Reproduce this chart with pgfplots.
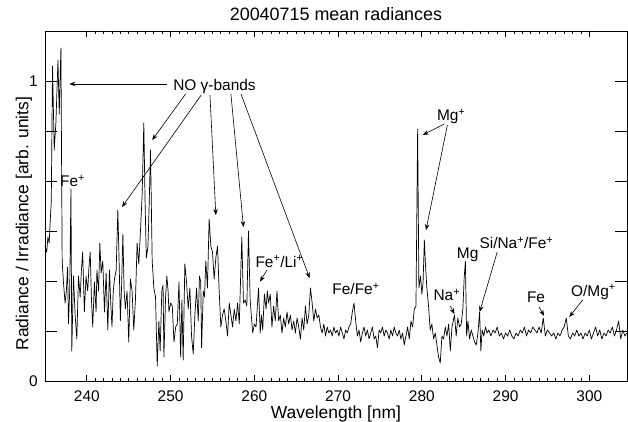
\documentclass[border=0pt]{standalone}
\usepackage{fontspec}
\setmainfont{Liberation Sans}
\usepackage{pgfplots}
\pgfplotsset{compat=1.18}
\usetikzlibrary{arrows.meta}

% mean radiance spectrum, wavelength [nm] vs radiance/irradiance
\pgfplotstableread{
x y
235.0 0.45
235.2 0.43
235.35 0.48
235.5 0.46
235.6 0.52
235.75 0.60
235.9 1.05
236.1 0.77
236.3 0.86
236.55 1.07
236.7 0.89
236.9 1.11
237.05 0.40
237.2 0.33
237.4 0.26
237.55 0.30
237.7 0.38
237.8 0.19
237.95 0.30
238.1 0.64
238.2 0.10
238.4 0.35
238.6 0.22
238.8 0.14
239.0 0.35
239.2 0.28
239.35 0.37
239.5 0.43
239.7 0.23
239.9 0.35
240.1 0.30
240.25 0.38
240.4 0.43
240.55 0.27
240.7 0.18
240.9 0.33
241.1 0.23
241.2 0.37
241.4 0.30
241.55 0.46
241.7 0.36
241.9 0.40
242.1 0.23
242.3 0.36
242.5 0.17
242.7 0.37
242.85 0.26
243.0 0.18
243.15 0.30
243.3 0.34
243.5 0.37
243.7 0.57
243.85 0.40
244.0 0.20
244.15 0.32
244.3 0.49
244.45 0.30
244.6 0.24
244.8 0.30
245.0 0.13
245.2 0.34
245.4 0.30
245.6 0.17
245.8 0.27
246.0 0.46
246.2 0.39
246.4 0.50
246.6 0.62
246.8 0.86
246.95 0.60
247.1 0.41
247.3 0.45
247.45 0.60
247.6 0.77
247.8 0.40
248.0 0.31
248.2 0.28
248.4 0.05
248.6 0.20
248.75 0.10
248.95 0.30
249.1 0.32
249.2 0.08
249.4 0.28
249.55 0.35
249.7 0.30
249.8 0.23
250.0 0.26
250.2 0.25
250.4 0.13
250.6 0.18
250.8 0.19
251.0 0.33
251.2 0.08
251.35 0.27
251.5 0.07
251.7 0.39
251.9 0.33
252.1 0.24
252.3 0.31
252.5 0.15
252.7 0.09
252.9 0.22
253.1 0.31
253.3 0.20
253.45 0.35
253.6 0.33
253.7 0.11
253.9 0.30
254.05 0.28
254.2 0.40
254.4 0.31
254.6 0.54
254.8 0.45
255.0 0.43
255.2 0.34
255.4 0.41
255.6 0.45
255.8 0.30
256.0 0.18
256.2 0.22
256.4 0.24
256.6 0.20
256.8 0.15
257.0 0.26
257.2 0.22
257.4 0.18
257.6 0.24
257.8 0.20
258.0 0.26
258.2 0.19
258.5 0.48
258.7 0.26
258.9 0.27
259.1 0.25
259.3 0.50
259.5 0.27
259.8 0.16
260.0 0.19
260.2 0.18
260.5 0.31
260.7 0.16
260.85 0.22
261.0 0.17
261.2 0.29
261.4 0.24
261.55 0.30
261.7 0.26
261.9 0.29
262.1 0.18
262.3 0.25
262.5 0.20
262.7 0.30
262.9 0.20
263.1 0.22
263.3 0.16
263.5 0.21
263.7 0.18
263.9 0.23
264.1 0.19
264.3 0.22
264.5 0.17
264.7 0.20
264.9 0.16
265.1 0.21
265.3 0.18
265.5 0.14
265.7 0.21
265.9 0.17
266.1 0.25
266.3 0.19
266.5 0.22
266.7 0.31
266.9 0.26
267.1 0.20
267.3 0.24
267.5 0.21
267.7 0.22
267.9 0.18
268.1 0.16
268.3 0.19
268.5 0.15
268.7 0.18
268.9 0.16
269.1 0.17
269.3 0.15
269.5 0.18
269.7 0.16
269.9 0.17
270.1 0.15
270.3 0.18
270.5 0.16
270.7 0.14
270.9 0.17
271.1 0.16
271.3 0.18
271.5 0.19
271.7 0.23
271.9 0.26
272.1 0.20
272.3 0.15
272.5 0.17
272.7 0.13
272.9 0.16
273.1 0.18
273.3 0.15
273.5 0.17
273.7 0.14
273.9 0.16
274.1 0.18
274.3 0.14
274.5 0.15
274.7 0.11
274.9 0.17
275.1 0.16
275.3 0.18
275.5 0.15
275.7 0.17
275.9 0.16
276.1 0.14
276.3 0.17
276.5 0.15
276.7 0.18
276.9 0.16
277.1 0.15
277.3 0.17
277.5 0.14
277.7 0.16
277.9 0.12
278.1 0.15
278.3 0.18
278.5 0.14
278.7 0.20
278.9 0.18
279.1 0.24
279.3 0.25
279.5 0.84
279.65 0.31
279.85 0.35
280.0 0.29
280.15 0.33
280.3 0.47
280.45 0.38
280.6 0.31
280.8 0.25
281.0 0.17
281.2 0.19
281.4 0.14
281.6 0.16
281.8 0.12
282.0 0.08
282.2 0.06
282.4 0.15
282.6 0.14
282.8 0.18
283.0 0.15
283.2 0.19
283.4 0.10
283.6 0.18
283.75 0.20
283.9 0.22
284.1 0.15
284.3 0.21
284.5 0.18
284.7 0.19
284.9 0.24
285.05 0.34
285.2 0.40
285.35 0.15
285.5 0.20
285.7 0.14
285.9 0.17
286.1 0.15
286.3 0.13
286.5 0.12
286.7 0.16
286.9 0.23
287.05 0.10
287.2 0.17
287.4 0.15
287.6 0.18
287.8 0.16
288.0 0.17
288.25 0.15
288.5 0.17
288.75 0.16
289.0 0.18
289.25 0.15
289.5 0.16
289.75 0.14
290.0 0.16
290.25 0.15
290.5 0.17
290.75 0.15
291.0 0.14
291.25 0.16
291.5 0.15
291.75 0.17
292.0 0.16
292.25 0.18
292.5 0.15
292.75 0.17
293.0 0.16
293.25 0.18
293.5 0.17
293.75 0.16
294.0 0.18
294.25 0.16
294.5 0.21
294.75 0.15
295.0 0.17
295.25 0.16
295.5 0.15
295.75 0.16
296.0 0.14
296.25 0.16
296.5 0.15
296.75 0.17
297.0 0.18
297.25 0.21
297.5 0.15
297.75 0.14
298.0 0.16
298.25 0.15
298.5 0.17
298.75 0.15
299.0 0.16
299.25 0.14
299.5 0.16
299.75 0.15
300.0 0.17
300.25 0.14
300.5 0.16
300.75 0.18
301.0 0.15
301.25 0.17
301.5 0.14
301.75 0.16
302.0 0.15
302.25 0.17
302.5 0.16
302.75 0.18
303.0 0.15
303.25 0.17
303.5 0.20
303.75 0.14
304.0 0.17
304.25 0.15
304.5 0.16
}\spectrum

\tikzset{
  lbl/.style={font=\fontsize{15.5}{16}\selectfont, inner sep=0pt, anchor=base},
  arr/.style={line width=0.6bp, -{Stealth[length=6bp,width=4.5bp]}},
}

\begin{document}
\begin{tikzpicture}
\useasboundingbox (-45bp,-41bp) rectangle (583bp,381bp);
\begin{axis}[
  at={(0,0)}, anchor=south west,
  scale only axis, width=582bp, height=350bp,
  xmin=235, xmax=304.5, ymin=0, ymax=1.166667,
  xtick={240,250,...,300}, minor x tick num=9,
  ytick={0,0.166667,0.333333,0.5,0.666667,0.833333,1,1.166667},
  yticklabels={0,,,,,,1,},
  minor y tick num=4,
  /pgf/number format/assume math mode=true,
  tick pos=both, tick align=inside,
  axis line style={line width=0.8bp},
  every tick/.style={black, line width=0.8bp},
  xtick style={/pgfplots/major tick length=6bp, /pgfplots/minor tick length=3.5bp},
  ytick style={/pgfplots/major tick length=12bp, /pgfplots/minor tick length=6bp},
  tick label style={font=\fontsize{15.5}{16}\selectfont, inner sep=0pt},
  xticklabel style={anchor=base, yshift=-20bp},
  yticklabel style={anchor=east, xshift=-7bp},
  title={20040715 mean radiances},
  title style={font=\fontsize{18}{20}\selectfont, inner sep=0pt,
    at={(axis description cs:0.5,1)}, anchor=base, yshift=5bp},
  xlabel={Wavelength [nm]},
  xlabel style={font=\fontsize{17.5}{19}\selectfont, inner sep=0pt,
    at={(axis description cs:0.5,0)}, anchor=base, yshift=-37bp},
  ylabel={Radiance / Irradiance [arb. units]},
  ylabel style={font=\fontsize{17.5}{19}\selectfont, inner sep=0pt,
    at={(axis description cs:-0.0285,0.45)}, anchor=base},
  clip=false,
]
\addplot[black, line width=0.7bp, line join=round] table[x=x, y=y] {\spectrum};

% labels
\node[lbl] at (axis cs:255.24,0.967) {NO γ-bands};
\node[lbl] at (axis cs:238.3,0.647) {Fe\textsuperscript{+}};
\node[lbl] at (axis cs:263.0,0.38) {Fe\textsuperscript{+}/Li\textsuperscript{+}};
\node[lbl] at (axis cs:272.14,0.287) {Fe/Fe\textsuperscript{+}};
\node[lbl] at (axis cs:283.5,0.868) {Mg\textsuperscript{+}};
\node[lbl] at (axis cs:282.99,0.268) {Na\textsuperscript{+}};
\node[lbl] at (axis cs:285.47,0.409) {Mg};
\node[lbl] at (axis cs:291.29,0.442) {Si/Na\textsuperscript{+}/Fe\textsuperscript{+}};
\node[lbl] at (axis cs:293.64,0.262) {Fe};
\node[lbl] at (axis cs:300.49,0.283) {O/Mg\textsuperscript{+}};

% arrows
\draw[arr] (axis cs:249.6,0.99) -- (axis cs:237.9,0.99);
\draw[arr] (axis cs:251.8,0.957) -- (axis cs:247.8,0.803);
\draw[arr] (axis cs:253.65,0.953) -- (axis cs:244.2,0.58);
\draw[arr] (axis cs:254.7,0.953) -- (axis cs:255.4,0.553);
\draw[arr] (axis cs:257.2,0.957) -- (axis cs:258.7,0.513);
\draw[arr] (axis cs:258.4,0.957) -- (axis cs:266.6,0.343);
\draw[arr] (axis cs:282.7,0.857) -- (axis cs:280.1,0.82);
\draw[arr] (axis cs:283.05,0.853) -- (axis cs:280.5,0.503);
\draw[arr] (axis cs:261.5,0.37) -- (axis cs:260.67,0.331);
\draw[arr] (axis cs:283.4,0.25) -- (axis cs:283.9,0.223);
\draw[arr] (axis cs:289.0,0.43) -- (axis cs:286.9,0.23);
\draw[arr] (axis cs:294.0,0.247) -- (axis cs:294.6,0.217);
\draw[arr] (axis cs:299.2,0.27) -- (axis cs:297.6,0.213);
\end{axis}
\end{tikzpicture}
\end{document}
